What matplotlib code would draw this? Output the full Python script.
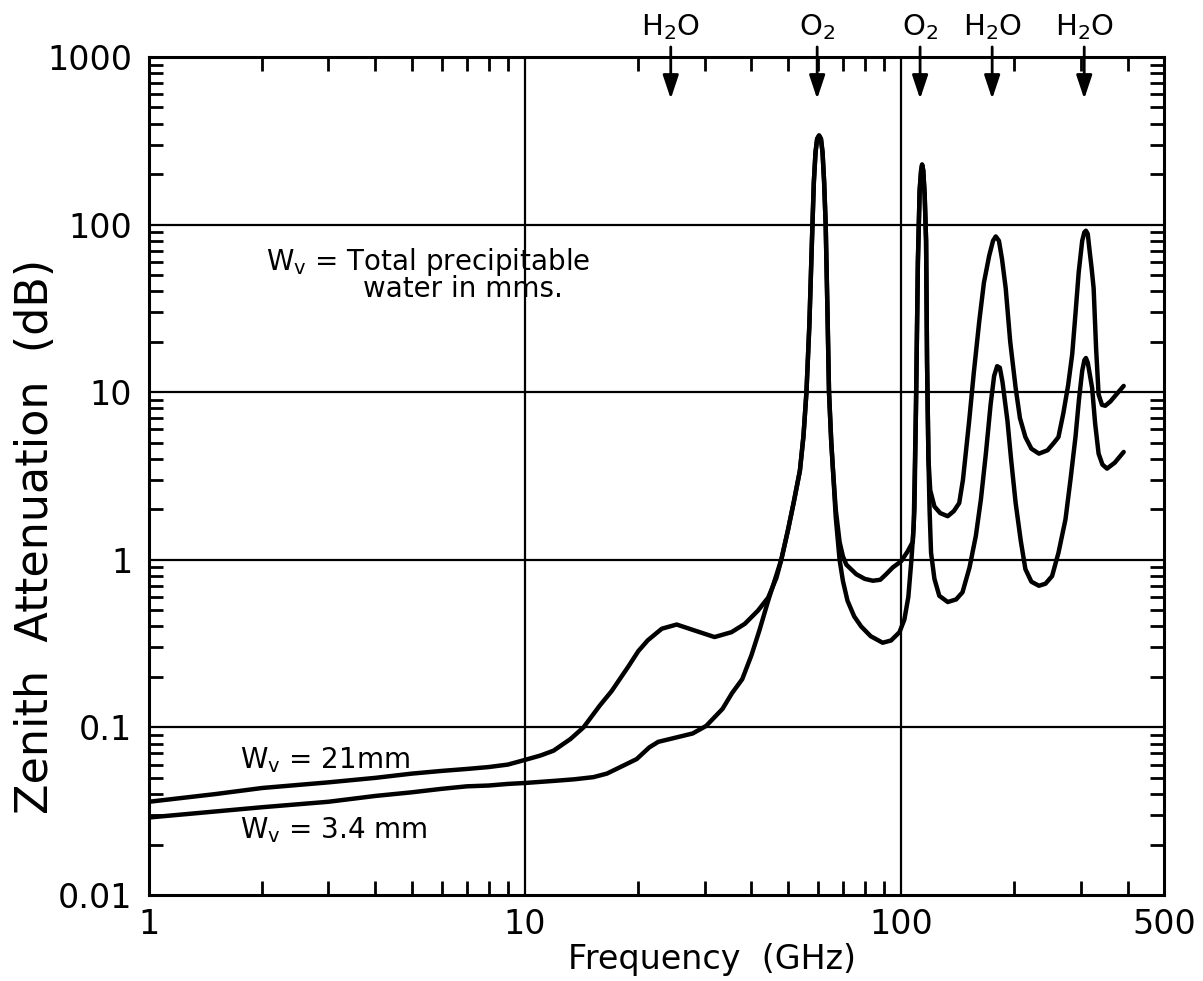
import matplotlib
matplotlib.use("Agg")
import matplotlib.pyplot as plt
from matplotlib.ticker import LogLocator, FixedLocator, NullFormatter
from matplotlib.transforms import blended_transform_factory

plt.rcParams['font.family'] = ['DejaVu Sans']
plt.rcParams['mathtext.default'] = 'regular'

# ---------------- data ----------------
freq_21 = [1, 1.5, 2, 3, 4, 5, 6, 7, 8, 9, 10, 11, 11.9, 13.2, 14.3, 15.8, 17.0, 18.8, 20.0,
           21.2, 23.1, 25.3, 28.2, 31.9, 35.4, 38.4, 41.6, 44.3, 46.6, 48.0, 50.0, 51.8, 53.8,
           55.0, 56.0, 57.0, 58.1, 58.6, 59.2, 59.8, 60.5, 61.2, 61.8, 62.4, 63.0, 63.7, 64.3,
           65.2, 65.9, 67.0, 68.6, 70.0, 71.5, 76.0, 80.0, 84.1, 88.0, 91.2, 95.0, 100.0, 104.0,
           107.4, 108.5, 109.5, 110.8, 112.0, 113.0, 113.7, 114.5, 115.5, 116.5, 117.2, 118.2,
           119.5, 122.6, 127.0, 133.0, 138.0, 142.7, 146.0, 148.5, 151.7, 156.0, 161.3, 166.0,
           171.4, 175.5, 178.5, 182.0, 185.5, 189.7, 195.0, 201.6, 207.0, 214.0, 222.0, 232.5,
           245.0, 255.0, 262.0, 270.0, 278.0, 285.0, 291.0, 296.6, 303.0, 307.0, 310.0, 313.5,
           317.0, 321.0, 325.0, 330.0, 335.0, 342.0, 349.0, 360.0, 375.0, 390.6]
atten_21 = [0.036, 0.040, 0.0435, 0.047, 0.050, 0.053, 0.055, 0.0565, 0.058, 0.060, 0.064,
            0.068, 0.0726, 0.0852, 0.100, 0.135, 0.165, 0.23, 0.285, 0.331, 0.388, 0.411,
            0.379, 0.346, 0.37, 0.415, 0.497, 0.595, 0.78, 1.0, 1.5, 2.2, 3.4, 5.5, 10, 25,
            100, 180, 270, 325, 340, 325, 270, 180, 100, 30, 10, 5.0, 3.4, 2.0, 1.28, 1.05,
            0.935, 0.82, 0.77, 0.75, 0.76, 0.82, 0.9, 0.98, 1.12, 1.28, 2.0, 8, 60, 160, 210,
            228, 210, 150, 80, 15, 4.0, 2.6, 2.08, 1.9, 1.82, 1.95, 2.18, 3.0, 4.3, 6.77, 13,
            26.4, 45, 65, 80, 85, 80, 62, 41.7, 20, 10.6, 7.0, 5.4, 4.6, 4.3, 4.5, 5.0, 5.4,
            7.5, 11, 16.8, 30, 52, 80, 90, 92, 88, 70, 55, 41.7, 18, 9.7, 8.4, 8.3, 8.8, 9.8,
            10.9]

freq_34 = [1, 1.5, 2, 3, 4, 5, 6, 7, 8, 9, 10, 12, 13.5, 15.2, 16.5, 17.5, 19.8, 21.4, 22.6,
           25.2, 27.9, 30.3, 33.5, 35.5, 37.8, 40.0, 42.0, 44.3, 46.5, 48.0, 50.0, 51.8, 53.8,
           55.0, 56.0, 57.0, 58.1, 58.6, 59.2, 59.8, 60.5, 61.2, 61.8, 62.4, 63.0, 63.7, 64.3,
           65.2, 65.9, 67.0, 68.6, 70.0, 72.0, 75.0, 78.3, 83.0, 89.3, 94.0, 99.0, 102.0,
           104.5, 106.5, 108.0, 109.5, 110.8, 112.0, 113.0, 113.7, 114.5, 115.5, 116.5, 117.2,
           118.2, 119.0, 120.1, 122.6, 126.3, 133.0, 140.0, 145.6, 152.0, 158.0, 163.0, 168.0,
           173.0, 176.7, 180.0, 183.0, 186.0, 191.7, 196.0, 201.6, 208.0, 214.0, 222.0, 232.5,
           242.0, 252.0, 262.0, 273.5, 282.0, 290.8, 297.0, 303.0, 307.0, 310.0, 313.5, 317.0,
           322.0, 328.0, 335.0, 343.0, 352.7, 370.0, 390.6]
atten_34 = [0.029, 0.0315, 0.0334, 0.036, 0.039, 0.041, 0.043, 0.0445, 0.045, 0.046, 0.0466,
            0.048, 0.049, 0.0505, 0.053, 0.0565, 0.0647, 0.076, 0.082, 0.087, 0.092, 0.102,
            0.129, 0.16, 0.194, 0.27, 0.38, 0.57, 0.8, 1.0, 1.5, 2.2, 3.4, 5.5, 10, 25, 100,
            180, 270, 325, 340, 325, 270, 180, 100, 30, 10, 5.0, 3.4, 1.8, 1.0, 0.75, 0.57,
            0.46, 0.4, 0.35, 0.32, 0.33, 0.37, 0.44, 0.6, 1.0, 1.6, 8, 60, 160, 210, 228, 210,
            150, 80, 15, 4.0, 2.0, 1.1, 0.77, 0.61, 0.56, 0.58, 0.64, 0.9, 1.39, 2.3, 4.3, 8.5,
            12.5, 14.3, 14.0, 11.5, 6.77, 4.0, 2.18, 1.3, 0.88, 0.74, 0.70, 0.72, 0.80, 1.1,
            1.74, 3.0, 5.4, 9, 13.4, 15.5, 16.0, 15, 13, 10.6, 6.5, 4.3, 3.7, 3.5, 3.8, 4.4]

x_ticks = [1, 10, 100, 500]
x_ticklabels = ['1', '10', '100', '500']
y_ticks = [0.01, 0.1, 1, 10, 100, 1000]
y_ticklabels = ['0.01', '0.1', '1', '10', '100', '1000']

line_freqs = [24.4, 59.8, 112.3, 174.6, 306.8]
line_labels = ['H$_2$O', 'O$_2$', 'O$_2$', 'H$_2$O', 'H$_2$O']

# ---------------- figure ----------------
W, H = 1203, 981
fig = plt.figure(figsize=(W / 100, H / 100), dpi=100)
L, R, T, B = 149, 1164, 57, 895
ax = fig.add_axes([L / W, 1 - B / H, (R - L) / W, (B - T) / H])
ax.set_xscale('log')
ax.set_yscale('log')
ax.set_xlim(1, 500)
ax.set_ylim(0.01, 1000)

for fr, at in [(freq_21, atten_21), (freq_34, atten_34)]:
    ax.plot(fr, at, color='black', lw=3.2, solid_joinstyle='round',
            solid_capstyle='round', zorder=3)

ax.xaxis.set_major_locator(FixedLocator(x_ticks))
ax.set_xticklabels(x_ticklabels)
ax.yaxis.set_major_locator(FixedLocator(y_ticks))
ax.set_yticklabels(y_ticklabels)
ax.xaxis.set_minor_locator(LogLocator(base=10, subs=range(2, 10), numticks=20))
ax.yaxis.set_minor_locator(LogLocator(base=10, subs=range(2, 10), numticks=20))
ax.xaxis.set_minor_formatter(NullFormatter())
ax.yaxis.set_minor_formatter(NullFormatter())
for v in [10, 100]:
    ax.axvline(v, color='black', lw=1.6, zorder=1)
for v in [0.1, 1, 10, 100]:
    ax.axhline(v, color='black', lw=1.6, zorder=1)

ax.tick_params(which='major', length=0, labelsize=24)
ax.tick_params(axis='y', which='major', pad=12)
ax.tick_params(axis='x', which='major', pad=9)
ax.tick_params(which='minor', direction='in', length=10, width=2.0,
               top=True, right=True, bottom=True, left=True)
for s in ax.spines.values():
    s.set_linewidth(2.2)

# axis labels
fig.text(712 / W, 1 - 960 / H, 'Frequency  (GHz)', fontsize=24, ha='center', va='center')
fig.text(36 / W, 1 - 536 / H, 'Zenith  Attenuation  (dB)', fontsize=32, rotation=90,
         ha='center', va='center')

# annotations
ax.text(2.05, 60, 'W$_v$ = Total precipitable', fontsize=20, ha='left', va='center')
ax.text(3.7, 41, 'water in mms.', fontsize=20, ha='left', va='center')
ax.text(1.75, 0.064, 'W$_v$ = 21mm', fontsize=20, ha='left', va='center')
ax.text(1.75, 0.0244, 'W$_v$ = 3.4 mm', fontsize=20, ha='left', va='center')

# absorption line markers
trans = blended_transform_factory(ax.transData, ax.transAxes)
for f, lab in zip(line_freqs, line_labels):
    ax.annotate('', xy=(f, 0.950), xycoords=('data', 'axes fraction'),
                xytext=(f, 1.012), textcoords=('data', 'axes fraction'),
                arrowprops=dict(arrowstyle='-|>,head_length=0.9,head_width=0.3',
                                lw=2, color='black', shrinkA=0, shrinkB=0,
                                mutation_scale=16),
                annotation_clip=False)
    ax.text(f, 1.036, lab, transform=trans, fontsize=21, ha='center', va='center')

fig.savefig('out.png', dpi=100)
